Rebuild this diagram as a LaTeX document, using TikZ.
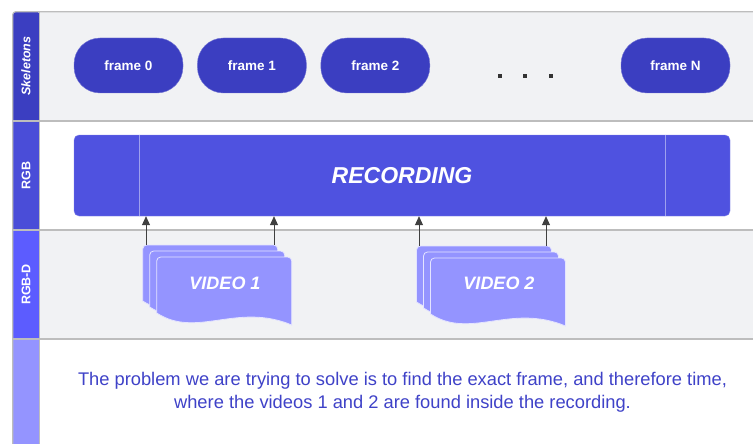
\documentclass[tikz,border=0pt]{standalone}
\usepackage{fontspec}
\setmainfont{Liberation Sans}
\usetikzlibrary{arrows.meta, positioning}

\definecolor{skelblue}{HTML}{3B3EC1}
\definecolor{rgbblue}{HTML}{4A4DD8}
\definecolor{depthblue}{HTML}{5C5CFF}
\definecolor{noteblue}{HTML}{9494FF}
\definecolor{recblue}{HTML}{4F52E0}
\definecolor{lanegray}{HTML}{F1F2F4}
\definecolor{rulegray}{HTML}{BDBDBD}
\definecolor{textblue}{HTML}{3F42C8}

% one stack of three wavy sheets, back sheet top-left at (#1,#2)
\newcommand{\docstack}[2]{%
  \foreach \d in {0,7,14} {
    \begin{scope}[shift={(#1+\d,#2+\d*6/7)}]
      \draw[sheet, rounded corners=4pt] (0,56) -- (0,0) -- (135,0)
        [sharp corners] -- (135,68) .. controls (80,45) and (40,82) .. (0,56) -- cycle;
    \end{scope}
  }%
}

\begin{document}
\begin{tikzpicture}[
  x=1pt, y=-1pt,
  lane/.style={draw=rulegray, line width=1.2pt},
  lanehead/.style={
    rotate=90, text=white, font=\fontsize{12.5}{14}\selectfont\bfseries
  },
  framebox/.style={
    draw=skelblue!70!white, fill=skelblue, rounded corners=26pt,
    minimum width=109pt, minimum height=55pt, text=white,
    font=\fontsize{13.5}{15}\selectfont\bfseries
  },
  sheet/.style={fill=noteblue, draw=white!75!noteblue, line width=0.8pt},
  vidtext/.style={text=white, font=\fontsize{18}{20}\selectfont\bfseries\itshape},
  recline/.style={draw=white!45!recblue, line width=0.8pt},
  arr/.style={-{Triangle[length=9pt, width=8pt]}, draw=black!75, line width=0.8pt}
]
  \useasboundingbox (0,0) rectangle (753,444);

  % lanes
  \fill[lanegray] (39.5,11.7) rectangle (760,121);
  \fill[white] (39.5,121) rectangle (760,230);
  \fill[lanegray] (39.5,230) rectangle (760,339);
  \fill[white] (39.5,339) rectangle (760,450);

  \fill[skelblue, rounded corners=3pt] (12.7,121) -- (12.7,11.7) -- (39.5,11.7) [sharp corners] -- (39.5,121) -- cycle;
  \fill[rgbblue] (12.7,121) rectangle (39.5,230);
  \fill[depthblue] (12.7,230) rectangle (39.5,339);
  \fill[noteblue] (12.7,339) rectangle (39.5,450);

  \draw[lane, rounded corners=3pt] (12.7,450) -- (12.7,11.7) -- (760,11.7);
  \draw[lane] (39.5,11.7) -- (39.5,450);
  \draw[lane] (12.7,121) -- (760,121);
  \draw[lane] (12.7,230) -- (760,230);
  \draw[lane] (12.7,339) -- (760,339);

  \node[lanehead, font=\fontsize{12.5}{14}\selectfont\bfseries\itshape] (hsk) at (26,66) {Skeletons};
  \node[lanehead] (hrgb) at (26,175.5) {RGB};
  \node[lanehead] (hdep) at (26,284.5) {RGB-D};

  % skeleton frames
  \node[framebox] (fr0) at (128.5,65.5) {frame 0};
  \node[framebox, right=14pt of fr0] (fr1) {frame 1};
  \node[framebox, right=14pt of fr1] (fr2) {frame 2};
  \node[framebox] (frN) at (675.5,65.5) {frame N};
  \foreach \x in {500,525,551}
    \fill[black!80] (\x-2,74) rectangle (\x+2,78);

  % recording
  \node[fill=recblue, draw=white!30!recblue, rounded corners=5pt,
        minimum width=656pt, minimum height=81pt, text=white,
        font=\fontsize{23}{26}\selectfont\bfseries\itshape] (rec) at (402,175.5) {RECORDING};
  \draw[recline] ([xshift=65.5pt]rec.north west) -- ([xshift=65.5pt]rec.south west);
  \draw[recline] ([xshift=-65pt]rec.north east) -- ([xshift=-65pt]rec.south east);

  % videos
  \docstack{142.7}{245}
  \docstack{416.5}{246}
  \node[vidtext] (v1) at (225,283) {VIDEO 1};
  \node[vidtext] (v2) at (499,283) {VIDEO 2};

  \coordinate (v1a) at (146,245);
  \coordinate (v1b) at (274,245);
  \coordinate (v2a) at (419,246);
  \coordinate (v2b) at (546,246);
  \draw[arr] (v1a) -- (v1a |- rec.south);
  \draw[arr] (v1b) -- (v1b |- rec.south);
  \draw[arr] (v2a) -- (v2a |- rec.south);
  \draw[arr] (v2b) -- (v2b |- rec.south);

  % note
  \node[align=center, text=textblue, font=\fontsize{18.3}{23}\selectfont] (note) at (402.5,392)
    {The problem we are trying to solve is to find the exact frame, and therefore time,\\
     where the videos 1 and 2 are found inside the recording.};
\end{tikzpicture}
\end{document}
